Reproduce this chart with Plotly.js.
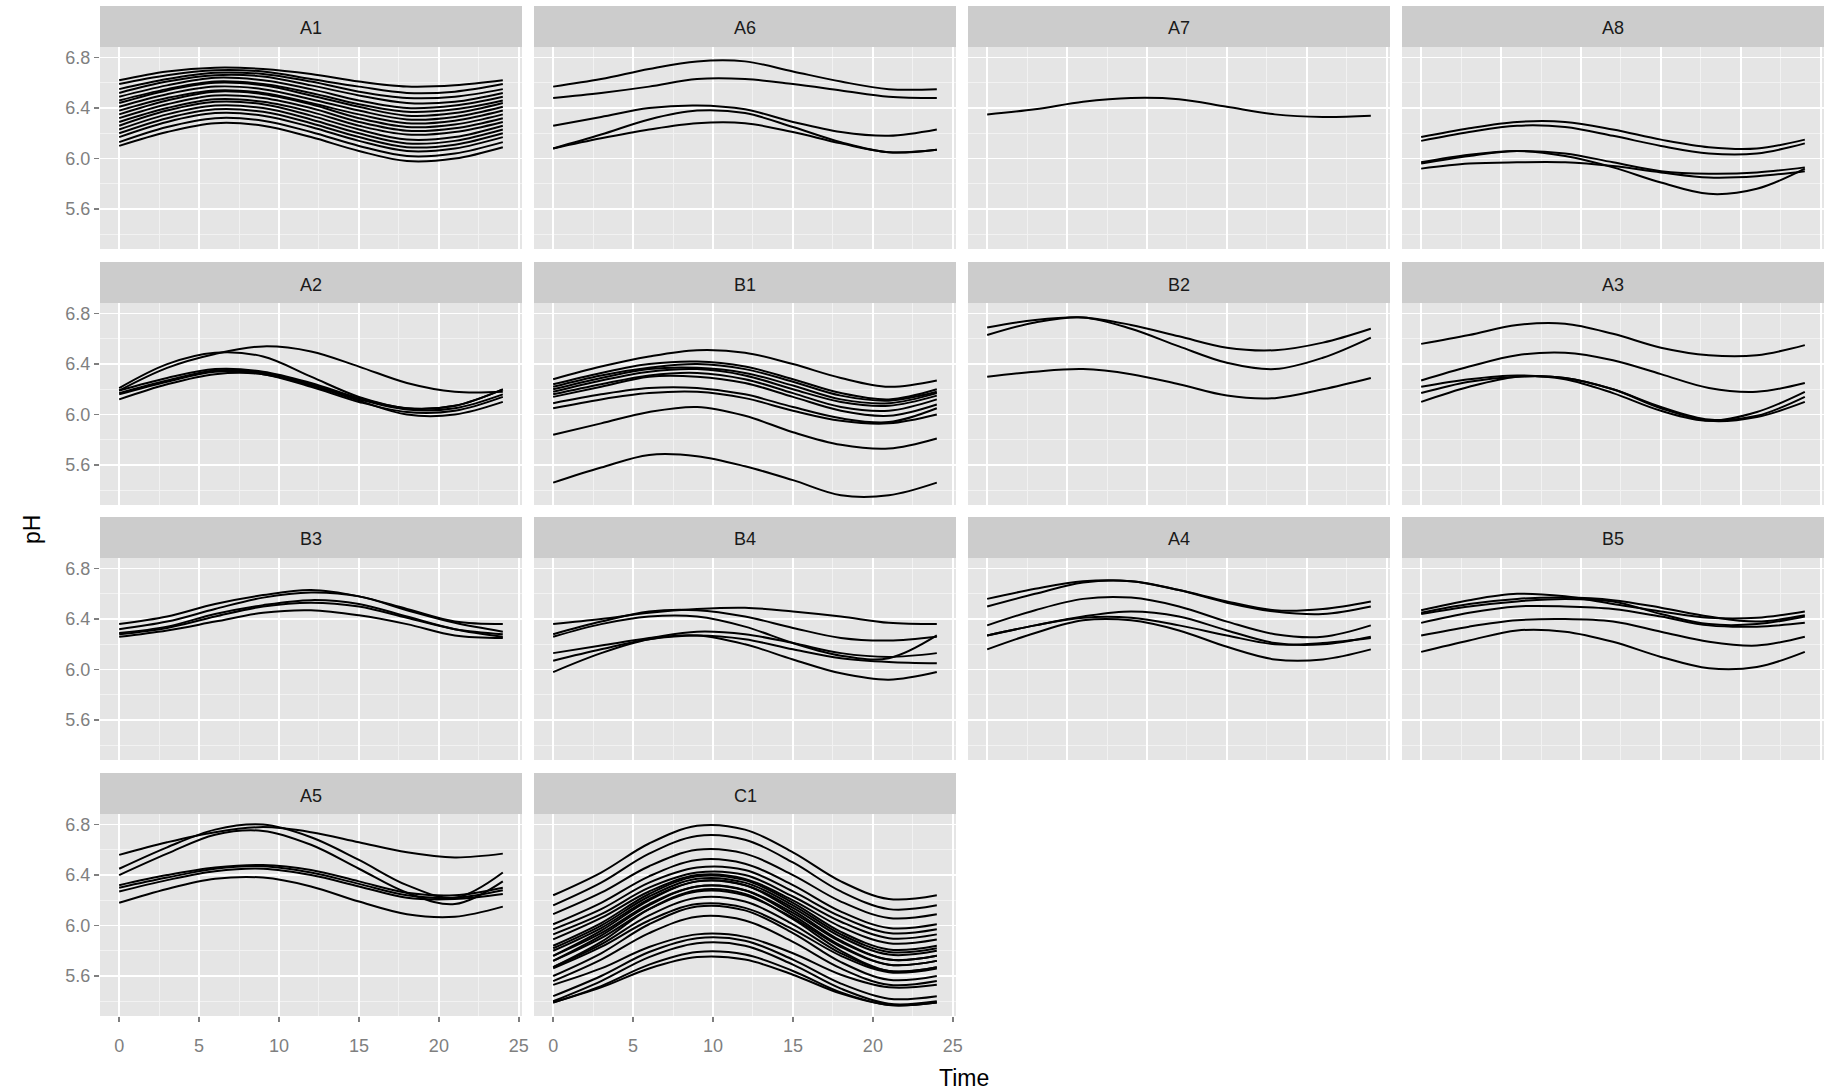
<!DOCTYPE html>
<html>
<head>
<meta charset="utf-8">
<script src="https://cdn.plot.ly/plotly-3.0.1.min.js"></script>
<style>
html,body{margin:0;padding:0;background:#fff;}
#chart{width:1828px;height:1091px;}
</style>
</head>
<body>
<div id="chart"></div>
<script>
// ---- data ----
const panels = ['A1','A6','A7','A8','A2','B1','B2','A3','B3','B4','A4','B5','A5','C1'];
const time = [0, 3, 6, 9, 12, 15, 18, 21, 24];
const yTicks = [5.6, 6.0, 6.4, 6.8];
const xTicks = [0, 5, 10, 15, 20, 25];

const A1 = [
  [6.62, 6.69, 6.72, 6.71, 6.67, 6.61, 6.57, 6.58, 6.62],
  [6.59, 6.66, 6.70, 6.69, 6.63, 6.57, 6.52, 6.53, 6.59],
  [6.55, 6.63, 6.68, 6.67, 6.61, 6.53, 6.48, 6.49, 6.55],
  [6.52, 6.61, 6.66, 6.65, 6.58, 6.50, 6.44, 6.45, 6.52],
  [6.49, 6.58, 6.64, 6.62, 6.55, 6.46, 6.40, 6.42, 6.49],
  [6.46, 6.55, 6.61, 6.59, 6.52, 6.43, 6.37, 6.39, 6.46],
  [6.44, 6.54, 6.60, 6.58, 6.50, 6.41, 6.34, 6.36, 6.44],
  [6.41, 6.51, 6.57, 6.55, 6.47, 6.38, 6.31, 6.33, 6.41],
  [6.38, 6.48, 6.54, 6.52, 6.44, 6.35, 6.28, 6.30, 6.38],
  [6.35, 6.46, 6.53, 6.51, 6.43, 6.32, 6.25, 6.27, 6.35],
  [6.32, 6.43, 6.50, 6.48, 6.40, 6.29, 6.22, 6.24, 6.32],
  [6.29, 6.40, 6.47, 6.45, 6.37, 6.26, 6.19, 6.21, 6.29],
  [6.26, 6.38, 6.45, 6.43, 6.34, 6.23, 6.15, 6.17, 6.26],
  [6.23, 6.35, 6.42, 6.40, 6.31, 6.20, 6.12, 6.14, 6.23],
  [6.20, 6.32, 6.39, 6.37, 6.28, 6.17, 6.09, 6.11, 6.20],
  [6.17, 6.29, 6.36, 6.34, 6.25, 6.14, 6.06, 6.08, 6.17],
  [6.13, 6.25, 6.32, 6.30, 6.21, 6.10, 6.02, 6.04, 6.13],
  [6.10, 6.21, 6.28, 6.26, 6.17, 6.06, 5.98, 6.00, 6.09]
];
const A6 = [
  [6.57, 6.63, 6.71, 6.77, 6.77, 6.69, 6.61, 6.55, 6.55],
  [6.48, 6.52, 6.57, 6.63, 6.63, 6.59, 6.54, 6.49, 6.48],
  [6.26, 6.33, 6.40, 6.42, 6.39, 6.29, 6.21, 6.18, 6.23],
  [6.08, 6.19, 6.31, 6.38, 6.36, 6.25, 6.13, 6.05, 6.07],
  [6.08, 6.16, 6.23, 6.28, 6.28, 6.21, 6.12, 6.05, 6.07]
];
const A7 = [
  [6.35, 6.39, 6.45, 6.48, 6.47, 6.41, 6.35, 6.33, 6.34]
];
const A8 = [
  [6.17, 6.24, 6.29, 6.29, 6.23, 6.15, 6.09, 6.08, 6.15],
  [6.14, 6.21, 6.26, 6.25, 6.18, 6.10, 6.04, 6.04, 6.12],
  [5.97, 6.03, 6.06, 6.04, 5.97, 5.90, 5.88, 5.89, 5.93],
  [5.96, 6.02, 6.06, 6.02, 5.93, 5.81, 5.72, 5.76, 5.92],
  [5.92, 5.96, 5.97, 5.97, 5.94, 5.89, 5.85, 5.86, 5.90]
];
const A2 = [
  [6.19, 6.37, 6.48, 6.54, 6.50, 6.38, 6.25, 6.18, 6.18],
  [6.21, 6.40, 6.49, 6.46, 6.30, 6.14, 6.05, 6.07, 6.20],
  [6.19, 6.29, 6.36, 6.34, 6.25, 6.13, 6.05, 6.07, 6.20],
  [6.17, 6.27, 6.35, 6.33, 6.24, 6.12, 6.04, 6.05, 6.16],
  [6.16, 6.26, 6.34, 6.32, 6.22, 6.10, 6.02, 6.03, 6.14],
  [6.12, 6.24, 6.32, 6.32, 6.23, 6.11, 6.00, 6.00, 6.10]
];
const B1 = [
  [6.28, 6.38, 6.46, 6.51, 6.49, 6.40, 6.29, 6.22, 6.27],
  [6.24, 6.33, 6.40, 6.42, 6.38, 6.28, 6.17, 6.12, 6.20],
  [6.22, 6.31, 6.37, 6.40, 6.36, 6.26, 6.15, 6.11, 6.18],
  [6.20, 6.29, 6.36, 6.37, 6.33, 6.23, 6.12, 6.09, 6.17],
  [6.18, 6.27, 6.34, 6.36, 6.31, 6.20, 6.10, 6.07, 6.15],
  [6.16, 6.24, 6.31, 6.33, 6.28, 6.17, 6.06, 6.03, 6.12],
  [6.14, 6.22, 6.30, 6.30, 6.25, 6.14, 6.03, 5.99, 6.08],
  [6.09, 6.16, 6.21, 6.21, 6.16, 6.06, 5.97, 5.94, 6.05],
  [6.05, 6.12, 6.17, 6.18, 6.13, 6.03, 5.95, 5.93, 6.00],
  [5.84, 5.93, 6.02, 6.06, 5.99, 5.86, 5.76, 5.73, 5.81],
  [5.46, 5.58, 5.68, 5.67, 5.59, 5.48, 5.36, 5.36, 5.46]
];
const B2 = [
  [6.69, 6.75, 6.77, 6.71, 6.62, 6.53, 6.51, 6.57, 6.68],
  [6.63, 6.73, 6.77, 6.68, 6.54, 6.41, 6.36, 6.45, 6.61],
  [6.30, 6.34, 6.36, 6.32, 6.24, 6.15, 6.13, 6.20, 6.29]
];
const A3 = [
  [6.56, 6.63, 6.71, 6.72, 6.64, 6.53, 6.47, 6.47, 6.55],
  [6.27, 6.38, 6.47, 6.49, 6.43, 6.32, 6.21, 6.18, 6.25],
  [6.22, 6.28, 6.31, 6.28, 6.17, 6.03, 5.95, 6.02, 6.18],
  [6.17, 6.26, 6.30, 6.29, 6.20, 6.06, 5.96, 5.99, 6.14],
  [6.10, 6.22, 6.30, 6.29, 6.20, 6.05, 5.95, 5.98, 6.10]
];
const B3 = [
  [6.36, 6.42, 6.52, 6.59, 6.63, 6.58, 6.48, 6.38, 6.36],
  [6.32, 6.38, 6.48, 6.57, 6.61, 6.58, 6.47, 6.37, 6.30],
  [6.28, 6.33, 6.42, 6.50, 6.53, 6.50, 6.41, 6.32, 6.28],
  [6.29, 6.34, 6.44, 6.51, 6.55, 6.52, 6.42, 6.32, 6.26],
  [6.26, 6.31, 6.38, 6.45, 6.47, 6.43, 6.36, 6.27, 6.25]
];
const B4 = [
  [6.36, 6.40, 6.45, 6.48, 6.49, 6.46, 6.42, 6.37, 6.36],
  [6.28, 6.38, 6.46, 6.47, 6.42, 6.33, 6.25, 6.23, 6.26],
  [6.26, 6.36, 6.42, 6.42, 6.34, 6.21, 6.11, 6.09, 6.27],
  [6.13, 6.19, 6.25, 6.30, 6.28, 6.21, 6.13, 6.10, 6.13],
  [6.07, 6.16, 6.24, 6.27, 6.24, 6.16, 6.09, 6.06, 6.05],
  [5.98, 6.13, 6.24, 6.27, 6.20, 6.08, 5.97, 5.92, 5.98]
];
const A4 = [
  [6.56, 6.64, 6.70, 6.70, 6.63, 6.54, 6.47, 6.48, 6.54],
  [6.50, 6.60, 6.69, 6.70, 6.63, 6.53, 6.46, 6.44, 6.50],
  [6.35, 6.47, 6.56, 6.57, 6.50, 6.38, 6.28, 6.26, 6.35],
  [6.27, 6.35, 6.42, 6.46, 6.42, 6.31, 6.21, 6.20, 6.26],
  [6.27, 6.35, 6.41, 6.41, 6.35, 6.27, 6.20, 6.21, 6.25],
  [6.16, 6.29, 6.39, 6.39, 6.31, 6.18, 6.08, 6.08, 6.16]
];
const B5 = [
  [6.47, 6.55, 6.60, 6.58, 6.52, 6.46, 6.41, 6.41, 6.46],
  [6.45, 6.52, 6.56, 6.57, 6.55, 6.49, 6.42, 6.38, 6.43],
  [6.44, 6.50, 6.54, 6.56, 6.54, 6.44, 6.36, 6.36, 6.42],
  [6.37, 6.45, 6.50, 6.50, 6.48, 6.42, 6.35, 6.34, 6.37],
  [6.27, 6.34, 6.39, 6.40, 6.38, 6.30, 6.22, 6.19, 6.26],
  [6.14, 6.23, 6.31, 6.30, 6.22, 6.10, 6.01, 6.02, 6.14]
];
const A5 = [
  [6.56, 6.66, 6.74, 6.78, 6.74, 6.66, 6.58, 6.54, 6.57],
  [6.45, 6.62, 6.76, 6.80, 6.70, 6.52, 6.32, 6.22, 6.42],
  [6.40, 6.57, 6.72, 6.75, 6.64, 6.45, 6.26, 6.17, 6.35],
  [6.32, 6.40, 6.46, 6.48, 6.44, 6.35, 6.26, 6.24, 6.30],
  [6.30, 6.38, 6.45, 6.47, 6.42, 6.33, 6.24, 6.22, 6.28],
  [6.27, 6.36, 6.43, 6.45, 6.40, 6.31, 6.22, 6.21, 6.25],
  [6.18, 6.29, 6.37, 6.38, 6.31, 6.19, 6.09, 6.07, 6.15]
];
const C1 = [
  [6.24, 6.42, 6.65, 6.79, 6.76, 6.58, 6.35, 6.21, 6.24],
  [6.16, 6.34, 6.57, 6.71, 6.68, 6.50, 6.27, 6.13, 6.16],
  [6.09, 6.26, 6.47, 6.60, 6.57, 6.40, 6.19, 6.06, 6.09],
  [6.01, 6.18, 6.39, 6.52, 6.49, 6.32, 6.11, 5.98, 6.01],
  [5.97, 6.13, 6.34, 6.46, 6.44, 6.27, 6.07, 5.94, 5.97],
  [5.93, 6.09, 6.30, 6.42, 6.40, 6.23, 6.03, 5.90, 5.93],
  [5.89, 6.06, 6.27, 6.40, 6.37, 6.20, 5.99, 5.86, 5.89],
  [5.84, 6.02, 6.25, 6.39, 6.36, 6.18, 5.95, 5.81, 5.84],
  [5.82, 6.00, 6.23, 6.37, 6.34, 6.16, 5.93, 5.79, 5.82],
  [5.80, 5.98, 6.21, 6.35, 6.32, 6.14, 5.91, 5.77, 5.80],
  [5.76, 5.96, 6.20, 6.35, 6.32, 6.12, 5.88, 5.73, 5.76],
  [5.76, 5.94, 6.17, 6.31, 6.28, 6.10, 5.87, 5.73, 5.76],
  [5.72, 5.92, 6.16, 6.31, 6.28, 6.08, 5.84, 5.69, 5.72],
  [5.72, 5.90, 6.13, 6.27, 6.24, 6.06, 5.83, 5.69, 5.72],
  [5.67, 5.87, 6.13, 6.28, 6.25, 6.05, 5.80, 5.64, 5.67],
  [5.67, 5.85, 6.08, 6.22, 6.19, 6.01, 5.78, 5.64, 5.67],
  [5.66, 5.83, 6.04, 6.17, 6.14, 5.97, 5.76, 5.63, 5.66],
  [5.60, 5.78, 6.01, 6.15, 6.12, 5.94, 5.71, 5.57, 5.60],
  [5.56, 5.73, 5.94, 6.07, 6.04, 5.87, 5.66, 5.53, 5.56],
  [5.53, 5.66, 5.83, 5.93, 5.91, 5.78, 5.61, 5.51, 5.53],
  [5.44, 5.60, 5.79, 5.90, 5.88, 5.73, 5.54, 5.42, 5.44],
  [5.40, 5.56, 5.75, 5.86, 5.84, 5.69, 5.50, 5.38, 5.40],
  [5.39, 5.52, 5.69, 5.79, 5.77, 5.64, 5.47, 5.37, 5.39],
  [5.39, 5.51, 5.66, 5.75, 5.73, 5.61, 5.46, 5.37, 5.39]
];
const seriesByPanel = {A1, A6, A7, A8, A2, B1, B2, A3, B3, B4, A4, B5, A5, C1};

// ---- layout geometry (pixels) ----
const W = 1828, H = 1091;
const colLeft = [100, 534, 968, 1402];
const panelW = 422;
const rowTop = [6, 262, 517, 773];
const stripH = 41, panelH = 202;
const FONT = 'Liberation Sans, Arial, sans-serif';

const traces = [];
const layout = {
  width: W, height: H,
  margin: {l: 0, r: 0, t: 0, b: 0},
  paper_bgcolor: '#FFFFFF',
  plot_bgcolor: '#E5E5E5',
  showlegend: false,
  shapes: [],
  annotations: []
};

panels.forEach((name, i) => {
  const row = Math.floor(i / 4), col = i % 4;
  const n = i + 1;
  const xa = 'x' + (n === 1 ? '' : n), ya = 'y' + (n === 1 ? '' : n);
  const xKey = 'xaxis' + (n === 1 ? '' : n), yKey = 'yaxis' + (n === 1 ? '' : n);
  const l = colLeft[col], r = l + panelW;
  const st = rowTop[row], pt = st + stripH, pb = pt + panelH;

  seriesByPanel[name].forEach(vals => {
    traces.push({
      x: time, y: vals, xaxis: xa, yaxis: ya,
      type: 'scatter', mode: 'lines',
      line: {color: '#000000', width: 2, shape: 'spline', smoothing: 1},
      hoverinfo: 'skip', showlegend: false
    });
  });

  const showX = (row === 3);
  const showY = (col === 0);
  layout[xKey] = {
    domain: [l / W, r / W], anchor: ya,
    range: [-1.2, 25.2], tickmode: 'array', tickvals: xTicks,
    showgrid: true, gridcolor: '#FFFFFF', gridwidth: 1.6,
    minor: {tickmode: 'array', tickvals: [2.5, 7.5, 12.5, 17.5, 22.5], showgrid: true, gridcolor: '#F2F2F2', gridwidth: 1},
    zeroline: false, showline: false,
    showticklabels: showX, ticks: showX ? 'outside' : '', ticklen: 5, tickwidth: 1.5, tickcolor: '#7F7F7F',
    ticklabelstandoff: 8,
    tickfont: {family: FONT, size: 18, color: '#7F7F7F'},
    fixedrange: true
  };
  layout[yKey] = {
    domain: [1 - pb / H, 1 - pt / H], anchor: xa,
    range: [5.283, 6.884], tickmode: 'array', tickvals: yTicks, tickformat: '.1f',
    showgrid: true, gridcolor: '#FFFFFF', gridwidth: 1.6,
    minor: {tickmode: 'array', tickvals: [5.4, 5.8, 6.2, 6.6], showgrid: true, gridcolor: '#F2F2F2', gridwidth: 1},
    zeroline: false, showline: false,
    showticklabels: showY, ticks: showY ? 'outside' : '', ticklen: 5, tickwidth: 1.5, tickcolor: '#7F7F7F',
    tickfont: {family: FONT, size: 18, color: '#7F7F7F'},
    fixedrange: true
  };
  layout.shapes.push({
    type: 'rect', xref: 'paper', yref: 'paper',
    x0: l / W, x1: r / W, y0: 1 - pt / H, y1: 1 - st / H,
    fillcolor: '#CCCCCC', line: {width: 0}
  });
  layout.annotations.push({
    text: name, xref: 'paper', yref: 'paper',
    x: (l + panelW / 2) / W, y: 1 - (st + stripH / 2 + 2) / H,
    xanchor: 'center', yanchor: 'middle', showarrow: false,
    font: {family: FONT, size: 18, color: '#1A1A1A'}
  });
});

layout.annotations.push({
  text: 'Time', xref: 'paper', yref: 'paper',
  x: 964 / W, y: 1 - 1078 / H, xanchor: 'center', yanchor: 'middle',
  showarrow: false, font: {family: FONT, size: 23, color: '#000000'}
});
layout.annotations.push({
  text: 'pH', xref: 'paper', yref: 'paper',
  x: 32 / W, y: 1 - 530 / H, xanchor: 'center', yanchor: 'middle', textangle: -90,
  showarrow: false, font: {family: FONT, size: 23, color: '#000000'}
});

Plotly.newPlot('chart', traces, layout, {staticPlot: true, displayModeBar: false});
</script>
</body>
</html>
